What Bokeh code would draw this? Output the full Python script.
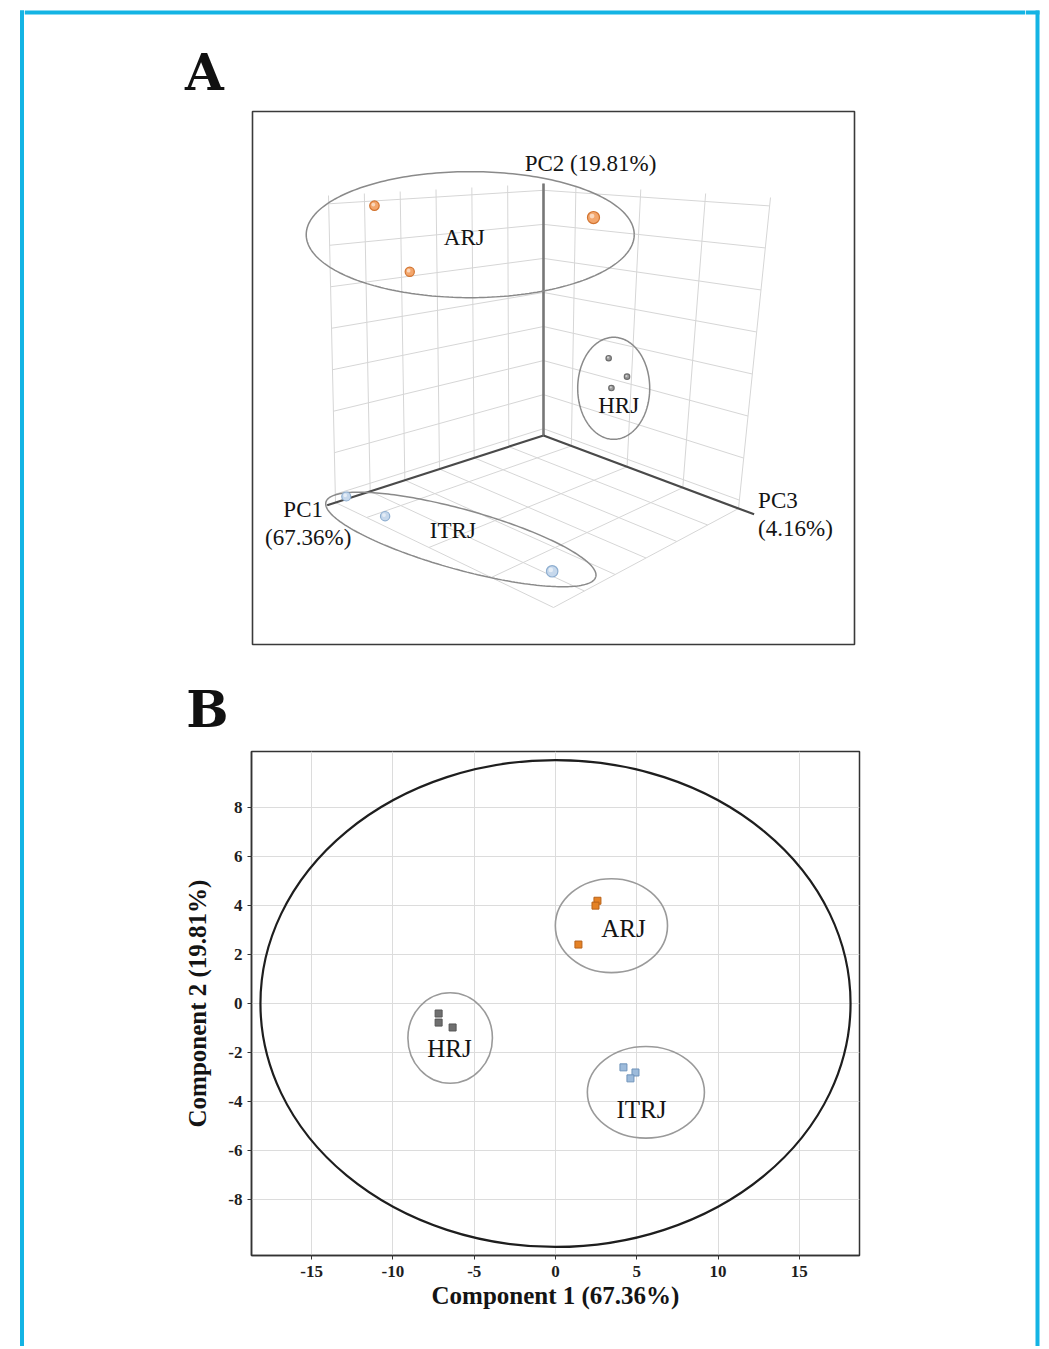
import numpy as np
from bokeh.plotting import figure
from bokeh.models import Range1d, FixedTicker
from bokeh.layouts import column, row
from bokeh.embed import file_html
from bokeh.resources import INLINE
from bokeh.core.properties import value

# ---------------- data ----------------
groups = ["ARJ", "HRJ", "ITRJ"]

# Panel A: 3-D PCA scores (PC1, PC2, PC3)
arj_pc1 = [2.15, 0.2, 1.25]
arj_pc2 = [3.9, 2.2, 4.0]
arj_pc3 = [-2.85, -2.65, 3.5]
hrj_pc1 = [-7.45, -7.75, -7.3]
hrj_pc2 = [0.0, -0.4, -0.7]
hrj_pc3 = [0.35, 0.85, 0.55]
itrj_pc1 = [4.55, 4.1, 4.25]
itrj_pc2 = [-3.05, -3.2, -2.7]
itrj_pc3 = [-2.85, -1.8, 3.65]

pc1_ticks = [-10, -7.5, -5, -2.5, 0, 2.5, 5]
pc2_ticks = [-3, -2, -1, 0, 1, 2, 3, 4]
pc3_ticks = [-2, 0, 2, 4]
pc1_title = ["PC1", "(67.36%)"]
pc2_title = "PC2 (19.81%)"
pc3_title = ["PC3", "(4.16%)"]

# Panel B: component scores
arj_c1 = [2.58, 2.46, 1.41]
arj_c2 = [4.2, 4.0, 2.41]
hrj_c1 = [-7.19, -7.19, -6.33]
hrj_c2 = [-0.41, -0.78, -0.98]
itrj_c1 = [4.18, 4.92, 4.61]
itrj_c2 = [-2.61, -2.82, -3.06]

# group ellipses (centre, width, height) in component units
ell_x = [3.44, -6.48, 5.56]
ell_y = [3.18, -1.41, -3.63]
ell_w = [6.9, 5.2, 7.2]
ell_h = [3.84, 3.7, 3.75]
# overall ellipse
t2_w, t2_h = 36.3, 19.9
label_x = [4.18, -6.52, 5.29]
label_y = [3.06, -1.84, -4.33]

x_ticks = [-15, -10, -5, 0, 5, 10, 15]
y_ticks = [-8, -6, -4, -2, 0, 2, 4, 6, 8]
x_title = "Component 1 (67.36%)"
y_title = "Component 2 (19.81%)"

# ---------------- style ----------------
SERIF = value("Liberation Serif")
CYAN = "#14b4e4"
TXT = "#141414"
fill_A = {"ARJ": "#f3a66c", "HRJ": "#9c9c9c", "ITRJ": "#c6d8ec"}
line_A = {"ARJ": "#d27430", "HRJ": "#6c6c6c", "ITRJ": "#8eaed0"}
base_size = {"ARJ": 10, "HRJ": 6, "ITRJ": 9}
fill_B = {"ARJ": "#e58225", "HRJ": "#6f6f6f", "ITRJ": "#9dbbdb"}
line_B = {"ARJ": "#b8621a", "HRJ": "#555555", "ITRJ": "#6f93ba"}

# page geometry (page pixels, origin top-left)
PAGE_H = 1346
XL, XR = 24, 1025          # middle column spans XL..XR
HA = 745                   # panel A canvas height
STRIPE_L = (19.5, 23.5)
STRIPE_R = (1035, 1039)
STRIPE_T = (10, 14)

# ---------------- projection for panel A ----------------
PC1_RANGE = (-10.0, 5.0)
PC2_RANGE = (-3.2, 4.2)
PC3_RANGE = (-3.0, 4.0)
CUBE = {"O": (543, 435), "A": (335, 502), "C": (738, 508), "F": (553, 607),
        "T": (543, 183), "TA": (328, 195), "TC": (770, 197), "TF": (556, 212)}


def norm(v, r):
    return (np.asarray(v, float) - r[0]) / (r[1] - r[0])


def project(a, b, c):
    a, b, c = (np.asarray(t, float) for t in (a, b, c))
    w = [(1 - a) * (1 - c), a * (1 - c), (1 - a) * c, a * c]
    out = []
    for k in (0, 1):
        bot = sum(wi * CUBE[n][k] for wi, n in zip(w, ["O", "A", "C", "F"]))
        top = sum(wi * CUBE[n][k] for wi, n in zip(w, ["T", "TA", "TC", "TF"]))
        out.append(bot + b * (top - bot))
    return out[0], out[1]


def canvas(x0, x1, y0, y1):
    f = figure(width=x1 - x0, height=y1 - y0, x_range=Range1d(x0, x1),
               y_range=Range1d(y1, y0), x_axis_type=None, y_axis_type=None,
               output_backend="svg", toolbar_location=None, min_border=0,
               outline_line_color=None)
    f.frame_align = False
    return f


pA = canvas(XL, XR, 0, HA)

# top cyan stripe
pA.quad(left=[XL], right=[XR], top=[STRIPE_T[0]], bottom=[STRIPE_T[1]],
        fill_color=CYAN, line_color=None)

# panel box
pA.quad(left=[252], right=[854], top=[111], bottom=[644], fill_color=None,
        line_color="#3a3a3a", line_width=1.6)

# wall / floor grid
A_T = norm(pc1_ticks, PC1_RANGE)
B_T = norm(pc2_ticks, PC2_RANGE)
C_T = norm(pc3_ticks, PC3_RANGE)
segs = []
for a in A_T:
    segs.append(((a, 0, 0), (a, 1, 0)))
    segs.append(((a, 0, 0), (a, 0, 1)))
for b in B_T:
    segs.append(((0, b, 0), (1, b, 0)))
    segs.append(((0, b, 0), (0, b, 1)))
for c in C_T:
    segs.append(((0, 0, c), (0, 1, c)))
    segs.append(((0, 0, c), (1, 0, c)))
p0 = np.array([s[0] for s in segs])
p1 = np.array([s[1] for s in segs])
gx0, gy0 = project(p0[:, 0], p0[:, 1], p0[:, 2])
gx1, gy1 = project(p1[:, 0], p1[:, 1], p1[:, 2])
pA.segment(gx0, gy0, gx1, gy1, line_color="#d6d6d6", line_width=1)

# axes
ax_end = np.array([[1.04, 0, 0], [0, 1, 0], [0, 0, 1.08]])
ox, oy = project(0, 0, 0)
ex, ey = project(ax_end[:, 0], ax_end[:, 1], ax_end[:, 2])
pA.segment([float(ox)] * 3, [float(oy)] * 3, ex, ey,
           line_color=["#4a4a4a", "#777777", "#4a4a4a"], line_width=[2.2, 2.6, 2.2])

# axis titles
pA.text([ex[1] + 47], [ey[1] - 20], [pc2_title], text_font=SERIF, text_font_size="23px",
        text_color=TXT, text_align="center", text_baseline="middle")
pA.text([ex[0] - 24, ex[0] - 19], [ey[0] + 4, ey[0] + 32], pc1_title, text_font=SERIF,
        text_font_size="23px", text_color=TXT, text_align="center", text_baseline="middle")
pA.text([ex[2] + 4, ex[2] + 4], [ey[2] - 14, ey[2] + 14], pc3_title, text_font=SERIF,
        text_font_size="23px", text_color=TXT, text_align="left", text_baseline="middle")

# points
data3d = {"ARJ": (arj_pc1, arj_pc2, arj_pc3), "HRJ": (hrj_pc1, hrj_pc2, hrj_pc3),
          "ITRJ": (itrj_pc1, itrj_pc2, itrj_pc3)}
ell3d = {"ARJ": dict(dx=11, dy=3, rx=164, ry=63, th=0.0, lx=-6, ly=3),
         "HRJ": dict(dx=-2, dy=14, rx=36, ry=51, th=0.0, lx=5, ly=17),
         "ITRJ": dict(dx=33, dy=11.5, rx=140, ry=30, th=15.5, lx=-8, ly=-9)}
t = np.linspace(0, 2 * np.pi, 241)
for g in groups:
    a = norm(data3d[g][0], PC1_RANGE)
    b = norm(data3d[g][1], PC2_RANGE)
    c = norm(data3d[g][2], PC3_RANGE)
    px, py = project(a, b, c)
    e = ell3d[g]
    cx, cy = px.mean() + e["dx"], py.mean() + e["dy"]
    th = np.deg2rad(e["th"])
    exs = cx + e["rx"] * np.cos(t) * np.cos(th) - e["ry"] * np.sin(t) * np.sin(th)
    eys = cy + e["rx"] * np.cos(t) * np.sin(th) + e["ry"] * np.sin(t) * np.cos(th)
    pA.line(exs, eys, line_color="#8a8a8a", line_width=1.5)
    sizes = base_size[g] * (0.7 + 0.3 * (a + c))
    pA.scatter(px, py, size=sizes, fill_color=fill_A[g], line_color=line_A[g], line_width=1.2)
    pA.scatter(px - sizes * 0.12, py - sizes * 0.12, size=sizes * 0.4, fill_color="white",
               fill_alpha=0.55, line_color=None)
    pA.text([cx + e["lx"]], [cy + e["ly"]], [g], text_font=SERIF, text_font_size="23px",
            text_color=TXT, text_align="center", text_baseline="middle")

# panel letters
pA.text([204, 207], [72, 709], ["A", "B"], text_font=value("DejaVu Serif"),
        text_font_style="bold", text_font_size="50px", text_color="#111111",
        text_align="center", text_baseline="middle")

# ---------------- panel B ----------------
HB = PAGE_H - HA
pB = figure(width=XR - XL, height=HB, x_range=Range1d(-18.7, 18.7),
            y_range=Range1d(-10.3, 10.3), output_backend="svg", toolbar_location=None,
            min_border_left=251 - XL, min_border_right=XR - 859,
            min_border_top=751 - HA, min_border_bottom=PAGE_H - 1255)
pB.frame_align = False
xt = FixedTicker(ticks=x_ticks)
yt = FixedTicker(ticks=y_ticks)
pB.xaxis.ticker = xt
pB.yaxis.ticker = yt
pB.xgrid.ticker = xt
pB.ygrid.ticker = yt
pB.xaxis.major_label_overrides = {v: str(v) for v in x_ticks}
pB.yaxis.major_label_overrides = {v: str(v) for v in y_ticks}
for ax in (pB.xaxis[0], pB.yaxis[0]):
    ax.major_label_text_font = "Liberation Serif"
    ax.major_label_text_font_style = "bold"
    ax.major_label_text_font_size = "17px"
    ax.major_label_text_color = "#1e1e1e"
    ax.axis_label_text_font = "Liberation Serif"
    ax.axis_label_text_font_style = "bold"
    ax.axis_label_text_font_size = "25px"
    ax.axis_label_text_color = TXT
    ax.major_tick_out = 4
    ax.major_tick_in = 0
    ax.minor_tick_out = 0
    ax.minor_tick_in = 0
    ax.axis_line_color = "#333333"
    ax.axis_line_width = 1.5
    ax.major_tick_line_color = "#333333"
pB.xaxis.axis_label = x_title
pB.yaxis.axis_label = y_title
pB.xaxis.major_label_standoff = 6
pB.yaxis.major_label_standoff = 5
pB.xaxis.axis_label_standoff = 2
pB.yaxis.axis_label_standoff = 14
pB.grid.grid_line_color = "#dcdcdc"
pB.grid.grid_line_width = 1
pB.outline_line_color = "#333333"
pB.outline_line_width = 1.5

pB.ellipse(x=[0], y=[0], width=[t2_w], height=[t2_h], fill_color=None,
           line_color="#1e1e1e", line_width=2.2)
pB.ellipse(x=ell_x, y=ell_y, width=ell_w, height=ell_h, fill_color=None,
           line_color="#9a9a9a", line_width=1.6)
data2d = {"ARJ": (arj_c1, arj_c2), "HRJ": (hrj_c1, hrj_c2), "ITRJ": (itrj_c1, itrj_c2)}
for g in groups:
    pB.scatter(data2d[g][0], data2d[g][1], marker="square", size=7, fill_color=fill_B[g],
               line_color=line_B[g], line_width=1)
pB.text(label_x, label_y, groups, text_font=SERIF, text_font_size="25px", text_color=TXT,
        text_align="center", text_baseline="middle")

# ---------------- side bars (cyan frame) ----------------
left_bar = canvas(0, XL, 0, PAGE_H)
left_bar.quad(left=[STRIPE_L[0], STRIPE_L[0]], right=[STRIPE_L[1], XL],
              top=[STRIPE_T[0], STRIPE_T[0]], bottom=[PAGE_H, STRIPE_T[1]],
              fill_color=CYAN, line_color=None)
right_bar = canvas(XR, 1045, 0, PAGE_H)
right_bar.quad(left=[STRIPE_R[0], XR], right=[STRIPE_R[1], STRIPE_R[1]],
               top=[STRIPE_T[0], STRIPE_T[0]], bottom=[PAGE_H, STRIPE_T[1]],
               fill_color=CYAN, line_color=None)

layout = row(left_bar, column(pA, pB), right_bar)
open("out.html", "w").write(file_html(layout, INLINE))
